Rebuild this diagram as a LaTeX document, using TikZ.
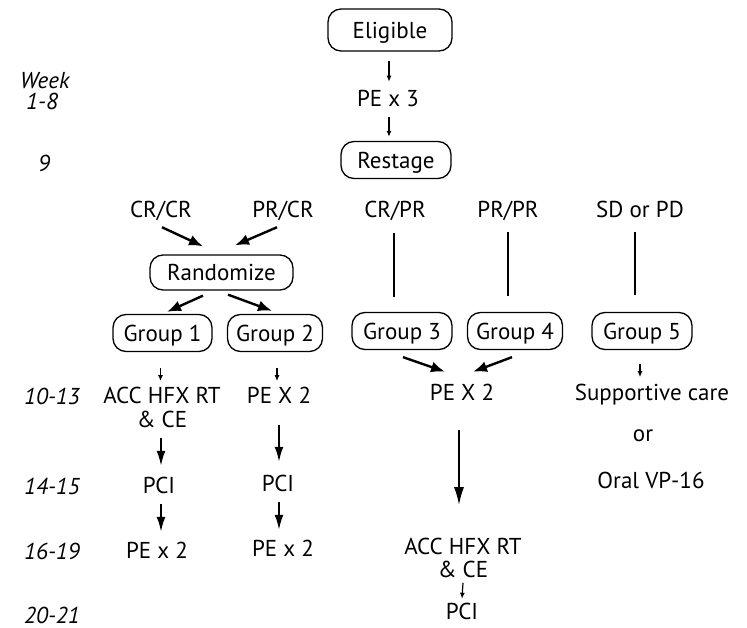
\documentclass[tikz,border=0pt]{standalone}
\usepackage{fontspec}
\setmainfont{PT Sans}
\usetikzlibrary{calc,arrows.meta}
\begin{document}
\begin{tikzpicture}[x=1pt,y=-1pt,
  lbl/.style={inner sep=0pt, text height=16.1pt, text depth=0pt, font=\fontsize{23}{24}\selectfont},
  wk/.style={lbl, font=\fontsize{23}{24}\selectfont\itshape, anchor=west},
  twoline/.style={inner sep=0pt, align=center, font=\fontsize{23}{24}\selectfont},
  box/.style={lbl, draw, line width=1.3pt, rounded corners=13pt, minimum height=37pt},
  bigarrow/.style={line width=2.4pt, -{Latex[length=14pt,width=11pt]}},
  midarrow/.style={line width=1.9pt, -{Latex[length=15pt,width=9pt]}},
  smallarrow/.style={line width=1.2pt, -{Latex[length=6pt,width=5pt]}},
  plainline/.style={line width=1.9pt}
]
\useasboundingbox (0,0) rectangle (747,628);

% week labels
\node[wk] (wweek) at (20,80) {Week};
\node[wk] (w18) at (26,101) {1-8};
\node[wk] (w9) at (38,163) {9};
\node[wk] (w1013) at (24,396) {10-13};
\node[wk] (w1415) at (24,486) {14-15};
\node[wk] (w1619) at (24,551) {16-19};
\node[wk] (w2021) at (24,615) {20-21};

% top
\node[box, minimum width=124pt, minimum height=42pt] (elig) at (390,30) {Eligible};
\node[lbl] (pe3) at (388,98) {PE x 3};
\node[box, minimum width=110pt] (restage) at (396,160) {Restage};

\draw[smallarrow] ($(elig.south -| pe3)+(1,9)$) -- ($(pe3.north)+(1,-8)$);
\draw[smallarrow] ($(pe3.south)+(1,11)$) -- ($(pe3.south |- restage.north)+(1,-4)$);

% responses
\node[lbl] (crcr) at (161,209) {CR/CR};
\node[lbl] (prcr) at (283,209) {PR/CR};
\node[lbl] (crpr) at (395,209) {CR/PR};
\node[lbl] (prpr) at (508,209) {PR/PR};
\node[lbl] (sdpd) at (640,209) {SD or PD};

\node[box, minimum width=143pt, minimum height=35pt] (rand) at (221.5,272.5) {Randomize};

\node[box, minimum width=99pt] (g1) at (162.5,333) {Group 1};
\node[box, minimum width=95pt] (g2) at (275,333) {Group 2};
\node[box, minimum width=100pt] (g3) at (402,331) {Group 3};
\node[box, minimum width=95pt] (g4) at (515,331) {Group 4};
\node[box, minimum width=100pt] (g5) at (642,331) {Group 5};

\draw[bigarrow] ($(crcr.south)+(1,10)$) -- ($(rand.north)+(-18.5,-8)$);
\draw[bigarrow] ($(prcr.south)+(-6,10)$) -- ($(rand.north)+(13.5,-9)$);
\draw[bigarrow] ($(rand.south)+(-18.5,5)$) -- ($(g1.north)+(4.5,-2)$);
\draw[bigarrow] ($(rand.south)+(6.5,4)$) -- ($(g2.north)+(-3,-3)$);

\draw[plainline] ($(crpr.south)+(-1,16)$) -- ($(crpr.south |- g3.north)+(-1,-15)$);
\draw[plainline] ($(prpr.south)+(0,15)$) -- ($(prpr.south |- g4.north)+(0,-16)$);
\draw[plainline] ($(sdpd.south)+(-5,15)$) -- ($(sdpd.south |- g5.north)+(-5,-17)$);

% week 10-13
\node[twoline] (acc1) at (162,407) {ACC HFX RT\\\& CE};
\node[lbl] (pe2a) at (279,395) {PE X 2};
\node[lbl] (pe2m) at (462,392) {PE X 2};
\node[lbl] (supp) at (652,392) {Supportive care};
\node[lbl] (or) at (643,433) {or};
\node[lbl] (oral) at (651,480) {Oral VP-16};

\draw[smallarrow] ($(g1.south)+(-2,16)$) -- ($(g1.south)+(-2,29)$);
\draw[smallarrow] ($(g2.south)+(2,16)$) -- ($(g2.south)+(2,29)$);
\draw[smallarrow] ($(g5.south)+(-2,14)$) -- ($(g5.south)+(-2,27)$);
\draw[bigarrow] ($(g3.south)+(1,7)$) -- ($(pe2m.north)+(-17,-12)$);
\draw[bigarrow] ($(g4.south)+(-3,7)$) -- ($(pe2m.north)+(11,-12)$);

% week 14-15
\node[lbl] (pci1) at (159,485) {PCI};
\node[lbl] (pci2) at (278,483) {PCI};
\draw[midarrow] ($(acc1.south -| pci1)+(2,10)$) -- ($(pci1.north)+(2,-11)$);
\draw[midarrow] ($(pe2a.south)+(0,22)$) -- ($(pci2.north)+(1,-13)$);

% week 16-19
\node[lbl] (pex1) at (157,550) {PE x 2};
\node[lbl] (pex2) at (283,548) {PE x 2};
\draw[midarrow] ($(pci1.south)+(2,11)$) -- ($(pex1.north -| pci1)+(2,-10)$);
\draw[midarrow] ($(pci2.south)+(1,11)$) -- ($(pex2.north -| pci2)+(1,-10)$);

\node[twoline] (acc3) at (463,558) {ACC HFX RT\\[-1.5pt]\& CE};
\node[lbl] (pci3) at (462,611) {PCI};
\draw[line width=2pt, -{Latex[length=18pt,width=10pt]}] ($(pe2m.south)+(-3,30)$) -- ($(pe2m.south |- acc3.north)+(-3,-33)$);
\draw[smallarrow] ($(acc3.south)+(0,5)$) -- ($(pci3.north)+(0,-4)$);
\end{tikzpicture}
\end{document}
